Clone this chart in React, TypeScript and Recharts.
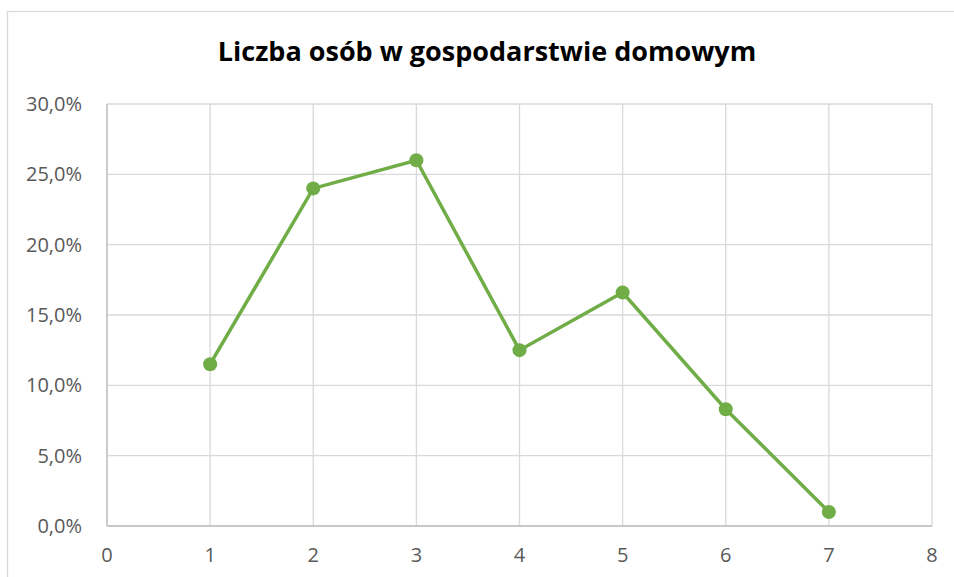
import React from "react";
import { LineChart, Line, XAxis, YAxis, CartesianGrid } from "recharts";

const householdSize = [1, 2, 3, 4, 5, 6, 7];
const sharePercent = [11.5, 24.0, 26.0, 12.5, 16.6, 8.3, 1.0];
const xTicks = [0, 1, 2, 3, 4, 5, 6, 7, 8];
const yTicks = [0, 5, 10, 15, 20, 25, 30];
const title = "Liczba osób w gospodarstwie domowym";

const data = householdSize.map((x, i) => ({ x, y: sharePercent[i] }));

const fmtPct = (v: number) => v.toFixed(1).replace(".", ",") + "%";

export default function App() {
  const W = 954;
  const H = 577;
  return (
    <div style={{ position: "absolute", left: 0, top: 0, width: W, height: H, background: "#fff", overflow: "hidden" }}>
      <LineChart
        width={W}
        height={H}
        data={data}
        margin={{ top: 104, right: 22, bottom: 0, left: 0 }}
      >
        <CartesianGrid stroke="#d9d9d9" strokeWidth={1.3} />
        <XAxis
          type="number"
          dataKey="x"
          domain={[0, 8]}
          ticks={xTicks}
          interval={0}
          height={51}
          tickLine={false}
          tickSize={0}
          tickMargin={22}
          axisLine={{ stroke: "#bfbfbf", strokeWidth: 1.3 }}
          tick={{ fill: "#595959", fontSize: 20, fontFamily: "Open Sans" }}
        />
        <YAxis
          type="number"
          domain={[0, 30]}
          ticks={yTicks}
          interval={0}
          width={107}
          tickLine={false}
          tickSize={0}
          tickMargin={25}
          tickFormatter={fmtPct}
          axisLine={{ stroke: "#bfbfbf", strokeWidth: 1.3 }}
          tick={{ fill: "#595959", fontSize: 20, fontFamily: "Open Sans" }}
        />
        <Line
          type="linear"
          dataKey="y"
          stroke="#70ad47"
          strokeWidth={3.5}
          dot={{ r: 7, fill: "#70ad47", stroke: "#70ad47", strokeWidth: 0 }}
          activeDot={false}
          isAnimationActive={false}
        />
      </LineChart>
      <svg
        width={W}
        height={H}
        style={{ position: "absolute", left: 0, top: 0, pointerEvents: "none" }}
      >
        <rect x={7.5} y={11.5} width={W + 20} height={H + 20} fill="none" stroke="#d9d9d9" strokeWidth={1.3} />
        <text
          x={487}
          y={61}
          textAnchor="middle"
          fontFamily="Open Sans"
          fontWeight="bold"
          fontSize={27}
          fill="#000"
        >
          {title}
        </text>
      </svg>
    </div>
  );
}
